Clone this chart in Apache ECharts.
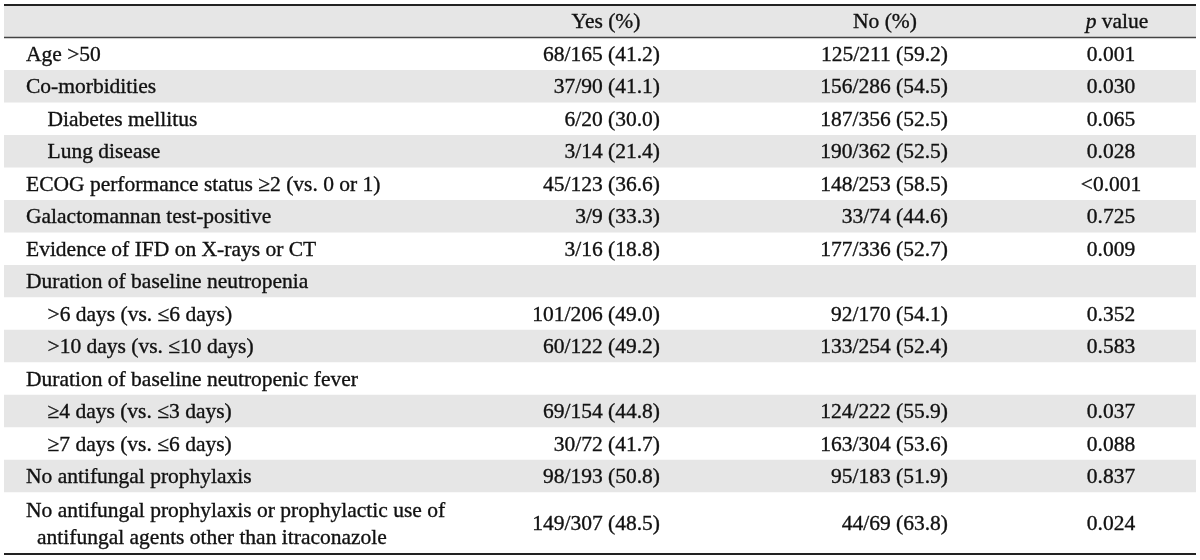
<!DOCTYPE html>
<html>
<head>
<meta charset="utf-8">
<script src="https://cdn.jsdelivr.net/npm/echarts@6/dist/echarts.min.js"></script>
<style>html,body{margin:0;padding:0;background:#fff}#c{width:1200px;height:560px}</style>
</head>
<body>
<div id="c"></div>
<script>
// ---- data ----
const headers = ['', 'Yes (%)', 'No (%)', 'p value'];
const labels = [
  'Age >50',
  'Co-morbidities',
  'Diabetes mellitus',
  'Lung disease',
  'ECOG performance status \u22652 (vs. 0 or 1)',
  'Galactomannan test-positive',
  'Evidence of IFD on X-rays or CT',
  'Duration of baseline neutropenia',
  '>6 days (vs. \u22646 days)',
  '>10 days (vs. \u226410 days)',
  'Duration of baseline neutropenic fever',
  '\u22654 days (vs. \u22643 days)',
  '\u22657 days (vs. \u22646 days)',
  'No antifungal prophylaxis',
  'No antifungal prophylaxis or prophylactic use of\nantifungal agents other than itraconazole'
];
const subItem = [false,false,true,true,false,false,false,false,true,true,false,true,true,false,false];
const yesValues = ['68/165 (41.2)','37/90 (41.1)','6/20 (30.0)','3/14 (21.4)','45/123 (36.6)','3/9 (33.3)','3/16 (18.8)','','101/206 (49.0)','60/122 (49.2)','','69/154 (44.8)','30/72 (41.7)','98/193 (50.8)','149/307 (48.5)'];
const noValues = ['125/211 (59.2)','156/286 (54.5)','187/356 (52.5)','190/362 (52.5)','148/253 (58.5)','33/74 (44.6)','177/336 (52.7)','','92/170 (54.1)','133/254 (52.4)','','124/222 (55.9)','163/304 (53.6)','95/183 (51.9)','44/69 (63.8)'];
const pValues = ['0.001','0.030','0.065','0.028','<0.001','0.725','0.009','','0.352','0.583','','0.037','0.088','0.837','0.024'];

// ---- layout (not data) ----
const rowUnits = [1].concat(labels.map(l => l.indexOf('\n') >= 0 ? 1.9 : 1)); // header + rows
const rowStart = [];
let acc = 0;
rowUnits.forEach(u => { rowStart.push(acc); acc += u; });
const totalUnits = acc;

const FONT = '"Liberation Serif", "Times New Roman", serif';
const FS = 21.5;
const TXT = '#111';
const SHADE = '#e6e6e6';
const RULE = '#222';
const X_LEFT = 4, X_RIGHT = 1196;
const X_LABEL = 26, X_INDENT = 47.5, X_HANG = 37;
const X_YES_R = 660, X_YES_HDR = 606;
const X_NO_R = 948, X_NO_HDR = 885;
const X_P = 1111, X_P_HDR = 1117;
const LINE_H = 27;

function txt(x, y, s, align, extra) {
  return {
    type: 'text',
    style: Object.assign({
      x: x, y: y, text: s, fill: TXT,
      stroke: TXT, lineWidth: 0.35,
      fontFamily: FONT, fontSize: FS,
      align: align, verticalAlign: 'middle'
    }, extra || {})
  };
}

function renderItem(params, api) {
  const i = params.dataIndex;
  const top = api.coord([0, rowStart[i]])[1];
  const bot = api.coord([0, rowStart[i] + rowUnits[i]])[1];
  const midY = (top + bot) / 2 + 1.5;
  const xl = api.coord([X_LEFT, 0])[0];
  const xr = api.coord([X_RIGHT, 0])[0];
  const children = [];
  const shaded = (i === 0) || (i % 2 === 0);
  if (shaded) {
    children.push({ type: 'rect', shape: { x: xl, y: top, width: xr - xl, height: bot - top }, style: { fill: SHADE } });
  }
  if (i === 0) {
    children.push(txt(api.coord([X_YES_HDR, 0])[0], midY, headers[1], 'center'));
    children.push(txt(api.coord([X_NO_HDR, 0])[0], midY, headers[2], 'center'));
    const ph = headers[3].split(' ');
    children.push(txt(api.coord([X_P_HDR, 0])[0], midY, '{i|' + ph[0] + '} ' + ph.slice(1).join(' '), 'center', {
      rich: { i: { fontStyle: 'italic', fontFamily: FONT, fontSize: FS, fill: TXT, stroke: TXT, lineWidth: 0.35 } }
    }));
    children.push({ type: 'line', shape: { x1: xl, y1: top, x2: xr, y2: top }, style: { stroke: RULE, lineWidth: 2 } });
    children.push({ type: 'line', shape: { x1: xl, y1: bot, x2: xr, y2: bot }, style: { stroke: '#444', lineWidth: 1.3 } });
  } else {
    const r = i - 1;
    const lines = labels[r].split('\n');
    const baseX = api.coord([subItem[r] ? X_INDENT : X_LABEL, 0])[0];
    const y0 = midY - (lines.length - 1) * LINE_H / 2;
    lines.forEach((ln, k) => {
      const lx = k === 0 ? baseX : api.coord([X_HANG, 0])[0];
      children.push(txt(lx, y0 + k * LINE_H, ln, 'left'));
    });
    if (yesValues[r]) children.push(txt(api.coord([X_YES_R, 0])[0], midY, yesValues[r], 'right'));
    if (noValues[r]) children.push(txt(api.coord([X_NO_R, 0])[0], midY, noValues[r], 'right'));
    if (pValues[r]) children.push(txt(api.coord([X_P, 0])[0], midY, pValues[r], 'center'));
    if (r === labels.length - 1) {
      children.push({ type: 'line', shape: { x1: xl, y1: bot, x2: xr, y2: bot }, style: { stroke: RULE, lineWidth: 2 } });
    }
  }
  return { type: 'group', children: children };
}

const chart = echarts.init(document.getElementById('c'), null, { renderer: 'canvas' });
chart.setOption({
  animation: false,
  backgroundColor: '#fff',
  grid: { left: 0, right: 0, top: 5, bottom: 6 },
  xAxis: { type: 'value', min: 0, max: 1200, show: false },
  yAxis: { type: 'value', min: 0, max: totalUnits, inverse: true, show: false },
  series: [{
    type: 'custom',
    silent: true,
    renderItem: renderItem,
    data: rowUnits.map((u, i) => [0, rowStart[i]]),
    encode: { x: 0, y: 1 },
    clip: false
  }]
});
</script>
</body>
</html>
